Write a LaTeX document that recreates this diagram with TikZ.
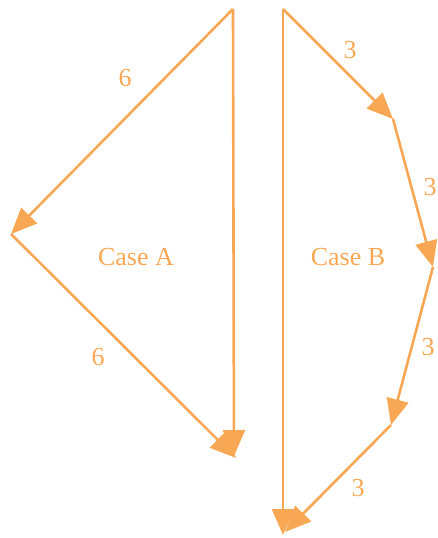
\documentclass[tikz,border=0pt]{standalone}
\usepackage{fontspec}
\setmainfont{Liberation Serif}
\usetikzlibrary{arrows.meta}
\definecolor{orng}{RGB}{248,168,84}
\begin{document}
\begin{tikzpicture}[x=1pt,y=-1pt,
  edge/.style={draw=orng,line width=2.6pt,-{Triangle[length=26pt,width=22pt]}},
  lbl/.style={text=orng,font=\fontsize{26}{30}\selectfont,inner sep=0pt}]
\useasboundingbox (0,0) rectangle (438,538);
% Case A
\coordinate (at) at (233,9);
\coordinate (al) at (11,234);
\coordinate (ab1) at (234,456);
\coordinate (ab2) at (236,458);
\draw[edge] (at) -- (al);
\draw[edge] (al) -- (ab2);
\draw[edge] (at) -- (ab1);
\node[lbl] (l6a) at (125,78) {6};
\node[lbl] (l6b) at (98,357) {6};
\node[lbl] (ca) at (136,257) {Case A};
% Case B
\coordinate (bt) at (283,9);
\coordinate (b1) at (393,119);
\coordinate (b2) at (433,267);
\coordinate (b3) at (391,425);
\coordinate (bb1) at (283,535);
\coordinate (bb2) at (285,532);
\draw[edge] (bt) -- (b1);
\draw[edge] (b1) -- (b2);
\draw[edge] (b2) -- (b3);
\draw[edge] (b3) -- (bb2);
\draw[edge] (bt) -- (bb1);
\node[lbl] (l3a) at (350,50) {3};
\node[lbl] (l3b) at (430,187) {3};
\node[lbl] (l3c) at (428,347) {3};
\node[lbl] (l3d) at (358,488) {3};
\node[lbl] (cb) at (348,257) {Case B};
\end{tikzpicture}
\end{document}
